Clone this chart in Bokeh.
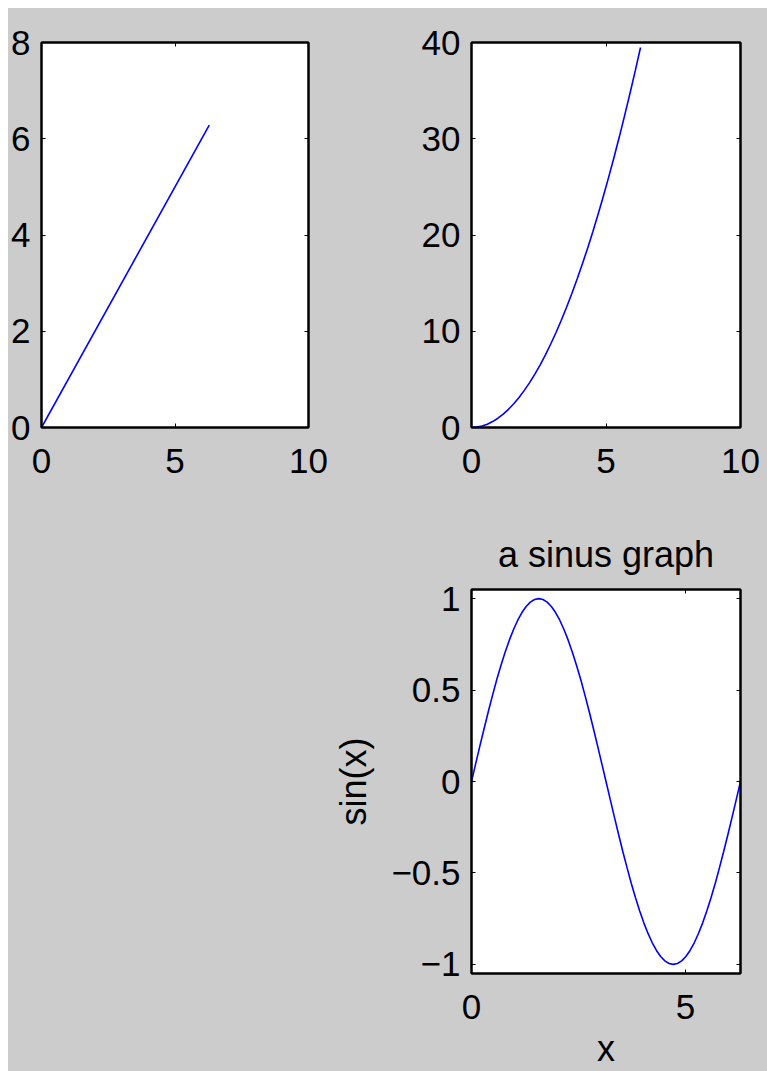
from bokeh.plotting import figure
from bokeh.layouts import column, row
from bokeh.models import LinearAxis, FixedTicker, Range1d, Spacer, CustomJSTickFormatter
from bokeh.embed import file_html
from bokeh.resources import INLINE

# ---------------- data ----------------
x_line = [0.0, 6.283]
y_line = [0.0, 6.283]

x_sq = [0.0, 0.196, 0.393, 0.589, 0.785, 0.982, 1.178, 1.374, 1.571, 1.767, 1.963,
        2.160, 2.356, 2.553, 2.749, 2.945, 3.142, 3.338, 3.534, 3.731, 3.927, 4.123,
        4.320, 4.516, 4.712, 4.909, 5.105, 5.301, 5.498, 5.694, 5.890, 6.087, 6.283]
y_square = [0.0, 0.039, 0.154, 0.347, 0.617, 0.964, 1.388, 1.889, 2.467, 3.123, 3.855,
            4.665, 5.551, 6.515, 7.556, 8.674, 9.870, 11.142, 12.491, 13.918, 15.421, 17.002,
            18.660, 20.395, 22.207, 24.096, 26.062, 28.105, 30.226, 32.423, 34.697, 37.049, 39.478]

x_sin = [0.0, 0.098, 0.196, 0.295, 0.393, 0.491, 0.589, 0.687, 0.785, 0.884, 0.982,
         1.080, 1.178, 1.276, 1.374, 1.473, 1.571, 1.669, 1.767, 1.865, 1.963, 2.062,
         2.160, 2.258, 2.356, 2.454, 2.553, 2.651, 2.749, 2.847, 2.945, 3.043, 3.142,
         3.240, 3.338, 3.436, 3.534, 3.633, 3.731, 3.829, 3.927, 4.025, 4.123, 4.222,
         4.320, 4.418, 4.516, 4.614, 4.712, 4.811, 4.909, 5.007, 5.105, 5.203, 5.301,
         5.400, 5.498, 5.596, 5.694, 5.792, 5.890, 5.989, 6.087, 6.185, 6.283]
y_sin = [0.0, 0.098, 0.195, 0.290, 0.383, 0.471, 0.556, 0.634, 0.707, 0.773, 0.831,
         0.882, 0.924, 0.957, 0.981, 0.995, 1.0, 0.995, 0.981, 0.957, 0.924, 0.882,
         0.831, 0.773, 0.707, 0.634, 0.556, 0.471, 0.383, 0.290, 0.195, 0.098, 0.0,
         -0.098, -0.195, -0.290, -0.383, -0.471, -0.556, -0.634, -0.707, -0.773, -0.831,
         -0.882, -0.924, -0.957, -0.981, -0.995, -1.0, -0.995, -0.981, -0.957, -0.924,
         -0.882, -0.831, -0.773, -0.707, -0.634, -0.556, -0.471, -0.383, -0.290, -0.195,
         -0.098, 0.0]

ticks_x1 = [0, 5, 10]
ticks_y1 = [0, 2, 4, 6, 8]
ticks_y2 = [0, 10, 20, 30, 40]
ticks_x3 = [0, 5]
ticks_y3 = [-1, -0.5, 0, 0.5, 1]
labels_y3 = {-1: "\u22121", -0.5: "\u22120.5", 0: "0", 0.5: "0.5", 1: "1"}

GRAY = "#cccccc"
FONT = "Liberation Sans"
TICK_FS = "35px"
LABEL_FS = "36px"
BLUE = "#0000ff"


def style_axis(ax, ticks, show_labels, standoff, overrides=None):
    ax.ticker = FixedTicker(ticks=ticks)
    ax.minor_tick_line_color = None
    ax.major_tick_in = 4
    ax.major_tick_out = 0
    ax.major_tick_line_width = 1
    ax.major_tick_line_color = "black"
    ax.axis_line_color = "black"
    ax.axis_line_width = 2
    ax.major_label_text_font = FONT
    ax.major_label_text_font_size = TICK_FS
    ax.major_label_text_color = "black"
    ax.major_label_standoff = standoff
    if overrides:
        ax.major_label_overrides = overrides
    if not show_labels:
        ax.formatter = CustomJSTickFormatter(code="return '';")
        ax.major_label_standoff = 0


def make_fig(w, h, left, right, top, bottom, xr, yr, xt, yt, yover=None):
    p = figure(width=w, height=h, x_range=Range1d(*xr), y_range=Range1d(*yr),
               output_backend="svg", toolbar_location=None,
               min_border_left=left, min_border_right=right,
               min_border_top=top, min_border_bottom=bottom,
               x_axis_location=None, y_axis_location=None)
    p.grid.visible = False
    p.background_fill_color = "white"
    p.border_fill_color = GRAY
    p.outline_line_color = "black"
    p.outline_line_width = 2
    bx = LinearAxis(); style_axis(bx, xt, True, 21)
    ly = LinearAxis(); style_axis(ly, yt, True, 11, yover)
    tx = LinearAxis(); style_axis(tx, xt, False, 0)
    ry = LinearAxis(); style_axis(ry, yt, False, 0)
    p.add_layout(bx, "below")
    p.add_layout(ly, "left")
    p.add_layout(tx, "above")
    p.add_layout(ry, "right")
    return p, bx, ly


p1, _, _ = make_fig(390, 480, 32, 90, 34, 61, (0, 10), (0, 8), ticks_x1, ticks_y1)
p1.line(x_line, y_line, line_color=BLUE, line_width=1.6)

p2, _, _ = make_fig(369, 480, 73, 27, 34, 61, (0, 10), (0, 40), ticks_x1, ticks_y2)
p2.line(x_sq, y_square, line_color=BLUE, line_width=1.6)

p3, bx3, ly3 = make_fig(459, 583, 163, 27, 101, 98, (0, 6.283), (-1.05, 1.05),
                        ticks_x3, ticks_y3, labels_y3)
p3.line(x_sin, y_sin, line_color=BLUE, line_width=1.6)
p3.title.text = "a sinus graph"
p3.title.align = "center"
p3.title.text_font = FONT
p3.title.text_font_size = LABEL_FS
p3.title.text_font_style = "normal"
p3.title.text_color = "black"
p3.title.standoff = 30
bx3.axis_label = "x"
bx3.axis_label_text_font = FONT
bx3.axis_label_text_font_size = LABEL_FS
bx3.axis_label_text_font_style = "normal"
bx3.axis_label_text_color = "black"
bx3.axis_label_standoff = 6
ly3.axis_label = "sin(x)"
ly3.axis_label_text_font = FONT
ly3.axis_label_text_font_size = LABEL_FS
ly3.axis_label_text_font_style = "normal"
ly3.axis_label_text_color = "black"
ly3.axis_label_standoff = 14

sp = Spacer(width=300, height=583, styles={"background-color": GRAY})

layout = column(row(p1, p2), row(sp, p3), styles={"background-color": GRAY},
                margin=(8, 0, 0, 8))

open("out.html", "w").write(file_html(layout, INLINE))
